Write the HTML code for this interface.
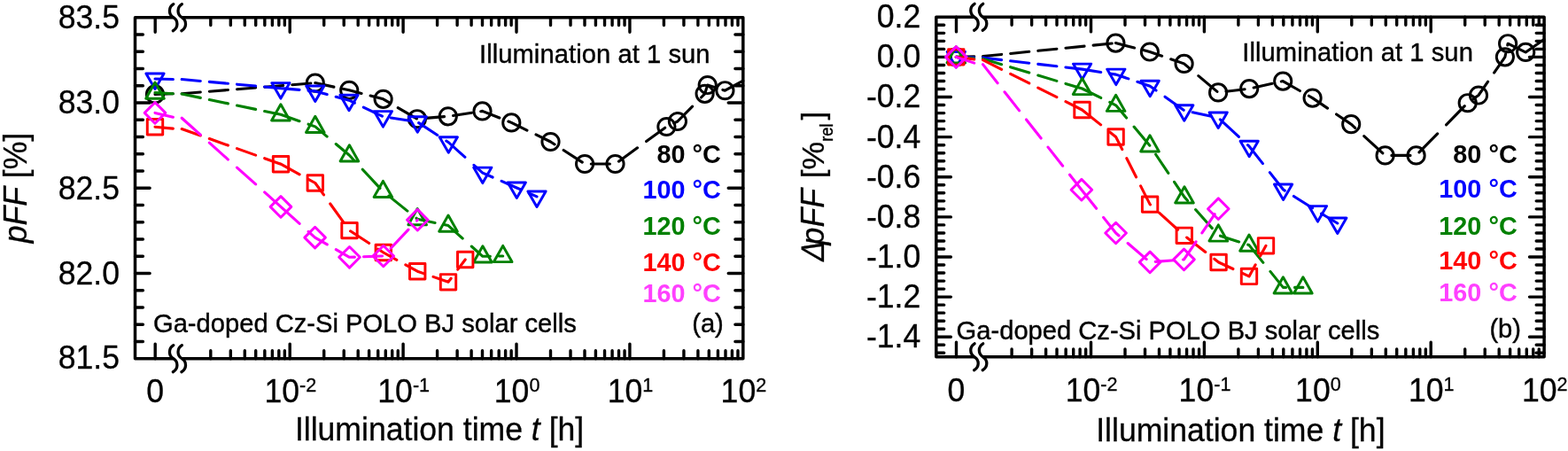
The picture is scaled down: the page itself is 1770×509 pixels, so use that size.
<!DOCTYPE html>
<html lang="en">
<head>
<meta charset="utf-8">
<title>pFF degradation under illumination</title>
<style>
html,body{margin:0;padding:0;background:#fff;}
body{width:1770px;height:509px;overflow:hidden;}
svg{display:block;}
text{font-family:"Liberation Sans", sans-serif;}
.tl{font-size:35.6px;stroke:#000;stroke-width:0.3px;}
.sup{font-size:21.6px;}
.sub{font-size:19.8px;stroke:#000;stroke-width:0.4px;}
.ttl{font-size:35.6px;stroke:#000;stroke-width:0.3px;}
.it{font-style:italic;}
.an{font-size:29.15px;stroke:#000;stroke-width:0.4px;}
.lg{font-size:28.8px;font-weight:bold;}
.ticks{fill:none;stroke:#000;stroke-width:3.4;stroke-linecap:round;}
.frame{fill:none;stroke:#000;stroke-width:3.5;stroke-linejoin:round;stroke-linecap:butt;}
.brk{fill:none;stroke:#000;stroke-width:3.3;stroke-linecap:round;}
.s{fill:none;stroke-width:2.95;stroke-linejoin:round;}
.s .ln{stroke-width:3.1;stroke-linejoin:round;stroke-linecap:round;}
</style>
</head>
<body>
<svg width="1770" height="509" viewBox="0 0 1770 509">
<rect width="1770" height="509" fill="#fff"/>
<path class="ticks" d="M175.2 19.7v16.6M175.2 404.7v-16.6M327.2 19.7v16.6M327.2 404.7v-16.6M455.1 19.7v16.6M455.1 404.7v-16.6M583 19.7v16.6M583 404.7v-16.6M710.9 19.7v16.6M710.9 404.7v-16.6M237.8 19.7v8.9M237.8 404.7v-8.9M260.32 19.7v8.9M260.32 404.7v-8.9M276.3 19.7v8.9M276.3 404.7v-8.9M288.7 19.7v8.9M288.7 404.7v-8.9M298.83 19.7v8.9M298.83 404.7v-8.9M307.39 19.7v8.9M307.39 404.7v-8.9M314.81 19.7v8.9M314.81 404.7v-8.9M321.35 19.7v8.9M321.35 404.7v-8.9M365.7 19.7v8.9M365.7 404.7v-8.9M388.22 19.7v8.9M388.22 404.7v-8.9M404.2 19.7v8.9M404.2 404.7v-8.9M416.6 19.7v8.9M416.6 404.7v-8.9M426.73 19.7v8.9M426.73 404.7v-8.9M435.29 19.7v8.9M435.29 404.7v-8.9M442.71 19.7v8.9M442.71 404.7v-8.9M449.25 19.7v8.9M449.25 404.7v-8.9M493.6 19.7v8.9M493.6 404.7v-8.9M516.12 19.7v8.9M516.12 404.7v-8.9M532.1 19.7v8.9M532.1 404.7v-8.9M544.5 19.7v8.9M544.5 404.7v-8.9M554.63 19.7v8.9M554.63 404.7v-8.9M563.19 19.7v8.9M563.19 404.7v-8.9M570.61 19.7v8.9M570.61 404.7v-8.9M577.15 19.7v8.9M577.15 404.7v-8.9M621.5 19.7v8.9M621.5 404.7v-8.9M644.02 19.7v8.9M644.02 404.7v-8.9M660 19.7v8.9M660 404.7v-8.9M672.4 19.7v8.9M672.4 404.7v-8.9M682.53 19.7v8.9M682.53 404.7v-8.9M691.09 19.7v8.9M691.09 404.7v-8.9M698.51 19.7v8.9M698.51 404.7v-8.9M705.05 19.7v8.9M705.05 404.7v-8.9M749.4 19.7v8.9M749.4 404.7v-8.9M771.92 19.7v8.9M771.92 404.7v-8.9M787.9 19.7v8.9M787.9 404.7v-8.9M800.3 19.7v8.9M800.3 404.7v-8.9M810.43 19.7v8.9M810.43 404.7v-8.9M818.99 19.7v8.9M818.99 404.7v-8.9M826.41 19.7v8.9M826.41 404.7v-8.9M832.95 19.7v8.9M832.95 404.7v-8.9M152.5 115.95h16.6M838.8 115.95h-16.6M152.5 212.2h16.6M838.8 212.2h-16.6M152.5 308.45h16.6M838.8 308.45h-16.6M152.5 38.95h8.9M838.8 38.95h-8.9M152.5 58.2h8.9M838.8 58.2h-8.9M152.5 77.45h8.9M838.8 77.45h-8.9M152.5 96.7h8.9M838.8 96.7h-8.9M152.5 135.2h8.9M838.8 135.2h-8.9M152.5 154.45h8.9M838.8 154.45h-8.9M152.5 173.7h8.9M838.8 173.7h-8.9M152.5 192.95h8.9M838.8 192.95h-8.9M152.5 231.45h8.9M838.8 231.45h-8.9M152.5 250.7h8.9M838.8 250.7h-8.9M152.5 269.95h8.9M838.8 269.95h-8.9M152.5 289.2h8.9M838.8 289.2h-8.9M152.5 327.7h8.9M838.8 327.7h-8.9M152.5 346.95h8.9M838.8 346.95h-8.9M152.5 366.2h8.9M838.8 366.2h-8.9M152.5 385.45h8.9M838.8 385.45h-8.9"/>
<path class="frame" d="M195.7 19.7H152.5V404.7H195.7M205.3 19.7H838.8V404.7H205.3"/>
<path class="brk" d="M195.8 4.7C190 8.2 190 16.2 195.7 19.7C201.4 23.2 201.4 31.2 195.3 34.7"/>
<path class="brk" d="M205.4 4.7C199.6 8.2 199.6 16.2 205.3 19.7C211 23.2 211 31.2 204.9 34.7"/>
<path class="brk" d="M195.8 389.7C190 393.2 190 401.2 195.7 404.7C201.4 408.2 201.4 416.2 195.3 419.7"/>
<path class="brk" d="M205.4 389.7C199.6 393.2 199.6 401.2 205.3 404.7C211 408.2 211 416.2 204.9 419.7"/>
<path class="ticks" d="M1079.5 19.3v16.6M1079.5 402.8v-16.6M1231.5 19.3v16.6M1231.5 402.8v-16.6M1359.4 19.3v16.6M1359.4 402.8v-16.6M1487.3 19.3v16.6M1487.3 402.8v-16.6M1615.2 19.3v16.6M1615.2 402.8v-16.6M1142.1 19.3v8.9M1142.1 402.8v-8.9M1164.62 19.3v8.9M1164.62 402.8v-8.9M1180.6 19.3v8.9M1180.6 402.8v-8.9M1193 19.3v8.9M1193 402.8v-8.9M1203.13 19.3v8.9M1203.13 402.8v-8.9M1211.69 19.3v8.9M1211.69 402.8v-8.9M1219.11 19.3v8.9M1219.11 402.8v-8.9M1225.65 19.3v8.9M1225.65 402.8v-8.9M1270 19.3v8.9M1270 402.8v-8.9M1292.52 19.3v8.9M1292.52 402.8v-8.9M1308.5 19.3v8.9M1308.5 402.8v-8.9M1320.9 19.3v8.9M1320.9 402.8v-8.9M1331.03 19.3v8.9M1331.03 402.8v-8.9M1339.59 19.3v8.9M1339.59 402.8v-8.9M1347.01 19.3v8.9M1347.01 402.8v-8.9M1353.55 19.3v8.9M1353.55 402.8v-8.9M1397.9 19.3v8.9M1397.9 402.8v-8.9M1420.42 19.3v8.9M1420.42 402.8v-8.9M1436.4 19.3v8.9M1436.4 402.8v-8.9M1448.8 19.3v8.9M1448.8 402.8v-8.9M1458.93 19.3v8.9M1458.93 402.8v-8.9M1467.49 19.3v8.9M1467.49 402.8v-8.9M1474.91 19.3v8.9M1474.91 402.8v-8.9M1481.45 19.3v8.9M1481.45 402.8v-8.9M1525.8 19.3v8.9M1525.8 402.8v-8.9M1548.32 19.3v8.9M1548.32 402.8v-8.9M1564.3 19.3v8.9M1564.3 402.8v-8.9M1576.7 19.3v8.9M1576.7 402.8v-8.9M1586.83 19.3v8.9M1586.83 402.8v-8.9M1595.39 19.3v8.9M1595.39 402.8v-8.9M1602.81 19.3v8.9M1602.81 402.8v-8.9M1609.35 19.3v8.9M1609.35 402.8v-8.9M1653.7 19.3v8.9M1653.7 402.8v-8.9M1676.22 19.3v8.9M1676.22 402.8v-8.9M1692.2 19.3v8.9M1692.2 402.8v-8.9M1704.6 19.3v8.9M1704.6 402.8v-8.9M1714.73 19.3v8.9M1714.73 402.8v-8.9M1723.29 19.3v8.9M1723.29 402.8v-8.9M1730.71 19.3v8.9M1730.71 402.8v-8.9M1737.25 19.3v8.9M1737.25 402.8v-8.9M1056.8 64.42h16.6M1743.1 64.42h-16.6M1056.8 109.54h16.6M1743.1 109.54h-16.6M1056.8 154.65h16.6M1743.1 154.65h-16.6M1056.8 199.77h16.6M1743.1 199.77h-16.6M1056.8 244.89h16.6M1743.1 244.89h-16.6M1056.8 290.01h16.6M1743.1 290.01h-16.6M1056.8 335.12h16.6M1743.1 335.12h-16.6M1056.8 380.24h16.6M1743.1 380.24h-16.6M1056.8 28.32h8.9M1743.1 28.32h-8.9M1056.8 37.35h8.9M1743.1 37.35h-8.9M1056.8 46.37h8.9M1743.1 46.37h-8.9M1056.8 55.39h8.9M1743.1 55.39h-8.9M1056.8 73.44h8.9M1743.1 73.44h-8.9M1056.8 82.46h8.9M1743.1 82.46h-8.9M1056.8 91.49h8.9M1743.1 91.49h-8.9M1056.8 100.51h8.9M1743.1 100.51h-8.9M1056.8 118.56h8.9M1743.1 118.56h-8.9M1056.8 127.58h8.9M1743.1 127.58h-8.9M1056.8 136.61h8.9M1743.1 136.61h-8.9M1056.8 145.63h8.9M1743.1 145.63h-8.9M1056.8 163.68h8.9M1743.1 163.68h-8.9M1056.8 172.7h8.9M1743.1 172.7h-8.9M1056.8 181.72h8.9M1743.1 181.72h-8.9M1056.8 190.75h8.9M1743.1 190.75h-8.9M1056.8 208.79h8.9M1743.1 208.79h-8.9M1056.8 217.82h8.9M1743.1 217.82h-8.9M1056.8 226.84h8.9M1743.1 226.84h-8.9M1056.8 235.86h8.9M1743.1 235.86h-8.9M1056.8 253.91h8.9M1743.1 253.91h-8.9M1056.8 262.94h8.9M1743.1 262.94h-8.9M1056.8 271.96h8.9M1743.1 271.96h-8.9M1056.8 280.98h8.9M1743.1 280.98h-8.9M1056.8 299.03h8.9M1743.1 299.03h-8.9M1056.8 308.05h8.9M1743.1 308.05h-8.9M1056.8 317.08h8.9M1743.1 317.08h-8.9M1056.8 326.1h8.9M1743.1 326.1h-8.9M1056.8 344.15h8.9M1743.1 344.15h-8.9M1056.8 353.17h8.9M1743.1 353.17h-8.9M1056.8 362.19h8.9M1743.1 362.19h-8.9M1056.8 371.22h8.9M1743.1 371.22h-8.9M1056.8 389.26h8.9M1743.1 389.26h-8.9M1056.8 398.29h8.9M1743.1 398.29h-8.9"/>
<path class="frame" d="M1100 19.3H1056.8V402.8H1100M1109.6 19.3H1743.1V402.8H1109.6"/>
<path class="brk" d="M1100.1 4.3C1094.3 7.8 1094.3 15.8 1100 19.3C1105.7 22.8 1105.7 30.8 1099.6 34.3"/>
<path class="brk" d="M1109.7 4.3C1103.9 7.8 1103.9 15.8 1109.6 19.3C1115.3 22.8 1115.3 30.8 1109.2 34.3"/>
<path class="brk" d="M1100.1 387.8C1094.3 391.3 1094.3 399.3 1100 402.8C1105.7 406.3 1105.7 414.3 1099.6 417.8"/>
<path class="brk" d="M1109.7 387.8C1103.9 391.3 1103.9 399.3 1109.6 402.8C1115.3 406.3 1115.3 414.3 1109.2 417.8"/>
<g class="plot">
<g class="s" stroke="#000000"><path class="ln" d="M175 106.4L195.4 105.82M205.2 105.7L226.3 104M236.35 103.19L257.45 101.5M267.5 100.69L288.6 99M298.65 98.19L319.75 96.5M329.8 95.69L350.9 93.99M355.8 93.6L376.9 98.11M386.95 100.25L394.2 101.8L408.05 105.41M418.1 108.02L432.6 111.8L439.2 115.66M449.25 121.54L470.35 133.88M480.4 133.41L501.5 131.66M511.55 130.42L532.65 127.21M542.7 125.67L544.5 125.4L563.8 133.05M573.85 137.03L577.3 138.4L594.95 147.03M605 151.94L621.5 160L626.1 162.98M636.15 169.49L657.25 183.15M667.3 185L688.4 185M698.45 182.13L719.55 166.83M729.6 159.54L750.7 144.23M760.75 138.99L764.9 137L781.58 120.05M791.47 110L795.6 105.8L798.7 96L805.8 98.23M815.85 101.4L818.4 102.2M818.4 102.2L838.8 91.2"/>
<circle cx="175" cy="106.4" r="9.6"/>
<circle cx="355.8" cy="93.6" r="9.6"/>
<circle cx="394.2" cy="101.8" r="9.6"/>
<circle cx="432.6" cy="111.8" r="9.6"/>
<circle cx="470.9" cy="134.2" r="9.6"/>
<circle cx="505.8" cy="131.3" r="9.6"/>
<circle cx="544.5" cy="125.4" r="9.6"/>
<circle cx="577.3" cy="138.4" r="9.6"/>
<circle cx="621.5" cy="160" r="9.6"/>
<circle cx="660.1" cy="185" r="9.6"/>
<circle cx="694.5" cy="185" r="9.6"/>
<circle cx="752.4" cy="143" r="9.6"/>
<circle cx="764.9" cy="137" r="9.6"/>
<circle cx="795.6" cy="105.8" r="9.6"/>
<circle cx="798.7" cy="96" r="9.6"/>
<circle cx="818.4" cy="102.2" r="9.6"/></g>
<g class="s" stroke="#0000FF"><path class="ln" d="M175 89L195.4 89.48M205.2 89.58L226.3 91.48M236.35 92.38L257.45 94.27M267.5 95.17L288.6 97.06M298.65 97.96L316.9 99.6M316.9 99.6L338 101.39M348.05 102.24L355.8 102.9L369.15 106.5M379.2 109.21L394 113.2L400.3 116.22M410.35 121.03L431.45 131.14M441.5 133.03L462.6 136.34M472.65 138.59L493.75 152.45M503.8 159.06L506.3 160.7L524.9 177.32M534.95 186.3L544.8 195.1L556.05 200.04M566.1 204.45L583.3 212L587.2 213.7M597.25 218.08L606 221.9"/>
<path d="M175 100.5l10.1 -17.5h-20.2z"/>
<path d="M316.9 111.1l10.1 -17.5h-20.2z"/>
<path d="M355.8 114.4l10.1 -17.5h-20.2z"/>
<path d="M394 124.7l10.1 -17.5h-20.2z"/>
<path d="M432.4 143.1l10.1 -17.5h-20.2z"/>
<path d="M471.3 149.2l10.1 -17.5h-20.2z"/>
<path d="M506.3 172.2l10.1 -17.5h-20.2z"/>
<path d="M544.8 206.6l10.1 -17.5h-20.2z"/>
<path d="M583.3 223.5l10.1 -17.5h-20.2z"/>
<path d="M606 233.4l10.1 -17.5h-20.2z"/></g>
<g class="s" stroke="#008000"><path class="ln" d="M175 104.6L195.4 105.71M205.2 105.96L226.3 110.37M236.35 112.47L257.45 116.88M267.5 118.98L288.6 123.39M298.65 125.49L316.9 129.3M316.9 129.3L338 136.68M348.05 140.19L355.8 142.9L369.15 154.11M379.2 162.54L394.4 175.3L399.91 181.2M409.29 191.25L428.99 212.35M438.8 221.15L459.9 238.11M469.95 246.19L471.2 247.2L491.05 251.42M501.1 253.56L506 254.6L522.2 269.05M532.25 278.02L544.9 289.3L553.35 289.19M563.4 289.06L567.7 289"/>
<path d="M175 93l10.3 18.2h-20.6z"/>
<path d="M316.9 117.7l10.3 18.2h-20.6z"/>
<path d="M355.8 131.3l10.3 18.2h-20.6z"/>
<path d="M394.4 163.7l10.3 18.2h-20.6z"/>
<path d="M432.4 204.4l10.3 18.2h-20.6z"/>
<path d="M471.2 235.6l10.3 18.2h-20.6z"/>
<path d="M506 243l10.3 18.2h-20.6z"/>
<path d="M544.9 277.7l10.3 18.2h-20.6z"/>
<path d="M567.7 277.4l10.3 18.2h-20.6z"/></g>
<g class="s" stroke="#FF0000"><path class="ln" d="M175 143.2L195.4 145.09M205.2 145.51L226.3 153M236.35 156.57L257.45 164.06M267.5 167.63L288.6 175.12M298.65 178.69L317 185.2M317 185.2L338.1 196.78M348.15 202.3L355.8 206.5L365.51 219.95M372.77 230L388 251.1M395.55 260.78L416.65 274.5M426.7 281.03L432.8 285L447.8 293.28M457.85 298.83L471.2 306.2L478.95 308.89M489 312.39L506 318.3L509.11 314.2M516.74 304.15L525.2 293"/>
<rect x="166.3" y="134.5" width="17.4" height="17.4"/>
<rect x="308.3" y="176.5" width="17.4" height="17.4"/>
<rect x="347.1" y="197.8" width="17.4" height="17.4"/>
<rect x="385.8" y="251.4" width="17.4" height="17.4"/>
<rect x="424.1" y="276.3" width="17.4" height="17.4"/>
<rect x="462.5" y="297.5" width="17.4" height="17.4"/>
<rect x="497.3" y="309.6" width="17.4" height="17.4"/>
<rect x="516.5" y="284.3" width="17.4" height="17.4"/></g>
<g class="s" stroke="#FF00FF"><path class="ln" d="M175 127.4L195.4 132.17M205.2 133.23L226.3 152.14M236.35 161.14L257.45 180.04M267.5 189.05L288.6 207.95M298.65 216.96L317 233.4M317 233.4L338.1 252.37M348.15 261.4L355.6 268.1L369.25 275.89M379.3 281.63L394.5 290.3L400.4 290.1M410.45 289.76L431.55 289.04M441.1 280.2L461.01 259.1M470.5 249.05L471.3 248.2"/>
<path d="M175 115.6l11.8 11.8l-11.8 11.8l-11.8 -11.8z"/>
<path d="M317 221.6l11.8 11.8l-11.8 11.8l-11.8 -11.8z"/>
<path d="M355.6 256.3l11.8 11.8l-11.8 11.8l-11.8 -11.8z"/>
<path d="M394.5 278.5l11.8 11.8l-11.8 11.8l-11.8 -11.8z"/>
<path d="M432.8 277.2l11.8 11.8l-11.8 11.8l-11.8 -11.8z"/>
<path d="M471.3 236.4l11.8 11.8l-11.8 11.8l-11.8 -11.8z"/></g>
</g>
<g class="plot">
<g class="s" stroke="#000000"><path class="ln" d="M1079.3 64.4L1099.7 63.69M1109.5 63.53L1130.6 61.43M1140.65 60.43L1161.75 58.33M1171.8 57.33L1192.9 55.22M1202.95 54.22L1224.05 52.12M1234.1 51.12L1255.2 49.02M1259.4 48.6L1280.5 54.03M1290.55 56.61L1297.9 58.5L1311.65 63.26M1321.7 66.74L1336.6 71.9L1342.8 77.13M1352.85 85.62L1373.95 103.43M1384 103.31L1405.1 100.72M1415.15 98.99L1436.25 94.27M1446.3 92.02L1448.2 91.6L1467.4 102.52M1477.45 108.24L1481.6 110.6L1498.55 122.11M1508.6 128.93L1525.2 140.2L1529.7 144.33M1539.75 153.54L1560.85 172.88M1570.9 175.4L1592 175.4M1601.99 171.95L1622.69 150.85M1632.56 140.8L1653.27 119.7M1663.25 111.57L1669 107.5L1679.62 92.15M1686.58 82.1L1698.9 64.3L1699.6 61M1701.73 50.95L1702.1 49.2L1721.45 58.54M1722.2 58.9L1743 44.5"/>
<circle cx="1079.3" cy="64.4" r="9.6"/>
<circle cx="1259.4" cy="48.6" r="9.6"/>
<circle cx="1297.9" cy="58.5" r="9.6"/>
<circle cx="1336.6" cy="71.9" r="9.6"/>
<circle cx="1375.1" cy="104.4" r="9.6"/>
<circle cx="1410.2" cy="100.1" r="9.6"/>
<circle cx="1448.2" cy="91.6" r="9.6"/>
<circle cx="1481.6" cy="110.6" r="9.6"/>
<circle cx="1525.2" cy="140.2" r="9.6"/>
<circle cx="1563.6" cy="175.4" r="9.6"/>
<circle cx="1598.6" cy="175.4" r="9.6"/>
<circle cx="1656.7" cy="116.2" r="9.6"/>
<circle cx="1669" cy="107.5" r="9.6"/>
<circle cx="1698.9" cy="64.3" r="9.6"/>
<circle cx="1702.1" cy="49.2" r="9.6"/>
<circle cx="1722.2" cy="58.9" r="9.6"/></g>
<g class="s" stroke="#0000FF"><path class="ln" d="M1079.3 64.4L1099.7 65.02M1109.5 65.15L1130.6 67.59M1140.65 68.75L1161.75 71.19M1171.8 72.35L1192.9 74.79M1202.95 75.95L1221.6 78.1M1221.6 78.1L1242.7 81.41M1252.75 82.99L1259.8 84.1L1273.85 88.89M1283.9 92.32L1298.2 97.2L1305 102.04M1315.05 109.2L1336.15 124.24M1346.2 126.71L1367.3 131.21M1377.35 134.88L1398.45 154.36M1408.5 163.63L1410.2 165.2L1425.47 184.6M1433.37 194.65L1448.6 214L1450.35 215.11M1460.4 221.46L1481.5 234.81M1491.55 241.03L1509.8 252"/>
<path d="M1079.3 75.9l10.1 -17.5h-20.2z"/>
<path d="M1221.6 89.6l10.1 -17.5h-20.2z"/>
<path d="M1259.8 95.6l10.1 -17.5h-20.2z"/>
<path d="M1298.2 108.7l10.1 -17.5h-20.2z"/>
<path d="M1336.8 136.2l10.1 -17.5h-20.2z"/>
<path d="M1375.2 144.4l10.1 -17.5h-20.2z"/>
<path d="M1410.2 176.7l10.1 -17.5h-20.2z"/>
<path d="M1448.6 225.5l10.1 -17.5h-20.2z"/>
<path d="M1487.5 250.1l10.1 -17.5h-20.2z"/>
<path d="M1509.8 263.5l10.1 -17.5h-20.2z"/></g>
<g class="s" stroke="#008000"><path class="ln" d="M1079.3 64.4L1099.7 66M1109.5 66.36L1130.6 72.69M1140.65 75.71L1161.75 82.04M1171.8 85.05L1192.9 91.39M1202.95 94.4L1221.6 100M1221.6 100L1242.7 110.44M1252.75 115.41L1259.6 118.8L1271.6 133.05M1280.06 143.1L1297.83 164.2M1304.62 174.25L1318.81 195.35M1325.57 205.4L1337 222.4L1340.64 226.5M1349.57 236.55L1368.32 257.65M1377.5 266.2L1398.6 272.95M1408.65 276.17L1410 276.6L1425.87 296.35M1433.94 306.4L1448.4 324.4L1451.5 324.4M1461.55 324.4L1470.9 324.4"/>
<path d="M1079.3 52.8l10.3 18.2h-20.6z"/>
<path d="M1221.6 88.4l10.3 18.2h-20.6z"/>
<path d="M1259.6 107.2l10.3 18.2h-20.6z"/>
<path d="M1298 152.8l10.3 18.2h-20.6z"/>
<path d="M1337 210.8l10.3 18.2h-20.6z"/>
<path d="M1375.3 253.9l10.3 18.2h-20.6z"/>
<path d="M1410 265l10.3 18.2h-20.6z"/>
<path d="M1448.4 312.8l10.3 18.2h-20.6z"/>
<path d="M1470.9 312.8l10.3 18.2h-20.6z"/></g>
<g class="s" stroke="#FF0000"><path class="ln" d="M1079.3 64.4L1099.7 67.08M1109.5 67.68L1130.6 78.29M1140.65 83.34L1161.75 93.95M1171.8 99.01L1192.9 109.62M1202.95 114.67L1221.5 124M1221.5 124L1242.6 140.89M1252.65 148.94L1259.6 154.5L1266.76 168.65M1271.84 178.7L1282.52 199.8M1287.6 209.85L1298.1 230.6L1298.45 230.92M1308.5 240.06L1329.6 259.25M1339.65 268.02L1360.75 284.44M1370.8 292.26L1375.6 296L1391.9 303.53M1401.95 308.18L1410 311.9L1417.17 298.85M1422.68 288.8L1429 277.3"/>
<rect x="1070.6" y="55.7" width="17.4" height="17.4"/>
<rect x="1212.8" y="115.3" width="17.4" height="17.4"/>
<rect x="1250.9" y="145.8" width="17.4" height="17.4"/>
<rect x="1289.4" y="221.9" width="17.4" height="17.4"/>
<rect x="1328.1" y="257.1" width="17.4" height="17.4"/>
<rect x="1366.9" y="287.3" width="17.4" height="17.4"/>
<rect x="1401.3" y="303.2" width="17.4" height="17.4"/>
<rect x="1420.3" y="268.6" width="17.4" height="17.4"/></g>
<g class="s" stroke="#FF00FF"><path class="ln" d="M1079.3 64.4L1099.7 71.14M1109.5 72.64L1126.1 93.74M1134.01 103.79L1150.62 124.89M1158.53 134.94L1175.13 156.04M1183.04 166.09L1199.64 187.19M1207.55 197.24L1220.9 214.2M1220.9 214.2L1237.63 235.3M1245.6 245.35L1259.6 263L1263.05 265.95M1273.1 274.54L1294.2 292.57M1304.25 295.42L1325.35 293.77M1335.4 292.99L1336.5 292.9L1350.07 272.9M1356.88 262.85L1371.2 241.75"/>
<path d="M1079.3 52.6l11.8 11.8l-11.8 11.8l-11.8 -11.8z"/>
<path d="M1220.9 202.4l11.8 11.8l-11.8 11.8l-11.8 -11.8z"/>
<path d="M1259.6 251.2l11.8 11.8l-11.8 11.8l-11.8 -11.8z"/>
<path d="M1298.1 284.1l11.8 11.8l-11.8 11.8l-11.8 -11.8z"/>
<path d="M1336.5 281.1l11.8 11.8l-11.8 11.8l-11.8 -11.8z"/>
<path d="M1375.3 223.9l11.8 11.8l-11.8 11.8l-11.8 -11.8z"/></g>
</g>
<text class="tl" transform="translate(135 32) scale(1 1.03)" text-anchor="end">83.5</text>
<text class="tl" transform="translate(135 128.1) scale(1 1.03)" text-anchor="end">83.0</text>
<text class="tl" transform="translate(135 224.6) scale(1 1.03)" text-anchor="end">82.5</text>
<text class="tl" transform="translate(135 320.7) scale(1 1.03)" text-anchor="end">82.0</text>
<text class="tl" transform="translate(135 416) scale(1 1.03)" text-anchor="end">81.5</text>
<text class="tl" transform="translate(1039.2 31.2) scale(1 1.03)" text-anchor="end">0.2</text>
<text class="tl" transform="translate(1039.2 76.32) scale(1 1.03)" text-anchor="end">0.0</text>
<text class="tl" transform="translate(1039.2 121.44) scale(1 1.03)" text-anchor="end">-0.2</text>
<text class="tl" transform="translate(1039.2 166.55) scale(1 1.03)" text-anchor="end">-0.4</text>
<text class="tl" transform="translate(1039.2 211.67) scale(1 1.03)" text-anchor="end">-0.6</text>
<text class="tl" transform="translate(1039.2 256.79) scale(1 1.03)" text-anchor="end">-0.8</text>
<text class="tl" transform="translate(1039.2 301.91) scale(1 1.03)" text-anchor="end">-1.0</text>
<text class="tl" transform="translate(1039.2 347.02) scale(1 1.03)" text-anchor="end">-1.2</text>
<text class="tl" transform="translate(1039.2 392.14) scale(1 1.03)" text-anchor="end">-1.4</text>
<text class="tl" transform="translate(175.2 454.1) scale(1 1.03)" text-anchor="middle">0</text>
<text class="tl" transform="translate(327.8 454.1) scale(1 1.03)" text-anchor="middle">10<tspan class="sup" dy="-11.3">-2</tspan></text>
<text class="tl" transform="translate(455.7 454.1) scale(1 1.03)" text-anchor="middle">10<tspan class="sup" dy="-11.3">-1</tspan></text>
<text class="tl" transform="translate(583.6 454.1) scale(1 1.03)" text-anchor="middle">10<tspan class="sup" dy="-11.3">0</tspan></text>
<text class="tl" transform="translate(711.5 454.1) scale(1 1.03)" text-anchor="middle">10<tspan class="sup" dy="-11.3">1</tspan></text>
<text class="tl" transform="translate(839.4 454.1) scale(1 1.03)" text-anchor="middle">10<tspan class="sup" dy="-11.3">2</tspan></text>
<text class="ttl" transform="translate(496.05 497) scale(1 1.03)" text-anchor="middle">Illumination time <tspan class="it">t</tspan> [h]</text>
<text class="tl" transform="translate(1079.5 452.5) scale(1 1.03)" text-anchor="middle">0</text>
<text class="tl" transform="translate(1232.1 452.5) scale(1 1.03)" text-anchor="middle">10<tspan class="sup" dy="-11.3">-2</tspan></text>
<text class="tl" transform="translate(1360 452.5) scale(1 1.03)" text-anchor="middle">10<tspan class="sup" dy="-11.3">-1</tspan></text>
<text class="tl" transform="translate(1487.9 452.5) scale(1 1.03)" text-anchor="middle">10<tspan class="sup" dy="-11.3">0</tspan></text>
<text class="tl" transform="translate(1615.8 452.5) scale(1 1.03)" text-anchor="middle">10<tspan class="sup" dy="-11.3">1</tspan></text>
<text class="tl" transform="translate(1743.7 452.5) scale(1 1.03)" text-anchor="middle">10<tspan class="sup" dy="-11.3">2</tspan></text>
<text class="ttl" transform="translate(1400.35 498.3) scale(1 1.03)" text-anchor="middle">Illumination time <tspan class="it">t</tspan> [h]</text>
<text class="ttl" transform="translate(29.8 212) rotate(-90) scale(1 1.03)" text-anchor="middle"><tspan class="it">pFF</tspan> [%]</text>
<text class="ttl" transform="translate(929.8 296.6) rotate(-90) skewX(-12) scale(0.93 1.03)">Δ</text>
<text class="ttl it" transform="translate(929.8 276.4) rotate(-90) scale(1 1.03)">pFF</text>
<text class="ttl" transform="translate(929.8 201.3) rotate(-90) scale(1 0.99)">[%</text>
<text class="sub" transform="translate(940.4 159.8) rotate(-90) scale(0.93 1.0)">rel</text>
<text class="ttl" transform="translate(929.8 135.6) rotate(-90) scale(1 0.99)">]</text>
<text class="an" transform="translate(541 71.4) scale(1 1.03)" letter-spacing="0.07">Illumination at 1 sun</text>
<text class="an" transform="translate(1402.3 69.1) scale(1 1.03)" letter-spacing="0.07">Illumination at 1 sun</text>
<text class="an" transform="translate(173 375.3) scale(1 1.03)">Ga-doped Cz-Si POLO BJ solar cells</text>
<text class="an" transform="translate(1079.6 383.2) scale(1 1.03)">Ga-doped Cz-Si POLO BJ solar cells</text>
<text class="an" transform="translate(816.8 375.3) scale(1 1.03)" text-anchor="end">(a)</text>
<text class="an" transform="translate(1717 380.7) scale(1 1.03)" text-anchor="end">(b)</text>
<text class="lg" transform="translate(813.8 184.4) scale(1 1.0)" text-anchor="end" fill="#000000">80 °C</text>
<text class="lg" transform="translate(1712.7 184.4) scale(1 1.0)" text-anchor="end" fill="#000000">80 °C</text>
<text class="lg" transform="translate(813.8 223.7) scale(1 1.0)" text-anchor="end" fill="#0000FF">100 °C</text>
<text class="lg" transform="translate(1712.7 222.5) scale(1 1.0)" text-anchor="end" fill="#0000FF">100 °C</text>
<text class="lg" transform="translate(813.8 265.4) scale(1 1.0)" text-anchor="end" fill="#008000">120 °C</text>
<text class="lg" transform="translate(1712.7 264.8) scale(1 1.0)" text-anchor="end" fill="#008000">120 °C</text>
<text class="lg" transform="translate(813.8 305.7) scale(1 1.0)" text-anchor="end" fill="#FF0000">140 °C</text>
<text class="lg" transform="translate(1712.7 304) scale(1 1.0)" text-anchor="end" fill="#FF0000">140 °C</text>
<text class="lg" transform="translate(813.8 341.3) scale(1 1.0)" text-anchor="end" fill="#FF40FF">160 °C</text>
<text class="lg" transform="translate(1712.7 340.2) scale(1 1.0)" text-anchor="end" fill="#FF40FF">160 °C</text>
</svg>
</body>
</html>
